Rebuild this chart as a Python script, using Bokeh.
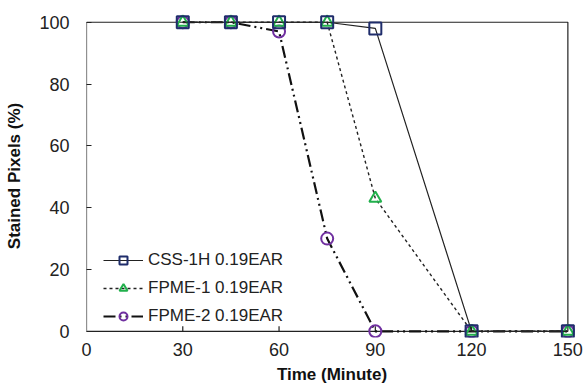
from bokeh.plotting import figure
from bokeh.models import Range1d, FixedTicker, Legend, LegendItem
from bokeh.embed import file_html
from bokeh.resources import INLINE

time = [30, 45, 60, 75, 90, 120, 150]
css_1h = [100, 100, 100, 100, 98, 0, 0]
fpme_1 = [100, 100, 100, 100, 43, 0, 0]
fpme_2 = [100, 100, 97, 30, 0, 0, 0]
x_ticks = [0, 30, 60, 90, 120, 150]
y_ticks = [0, 20, 40, 60, 80, 100]

FONT = "Liberation Sans"
INK = "#222222"

p = figure(width=586, height=389, output_backend="svg", toolbar_location=None,
           x_range=Range1d(0, 153), y_range=Range1d(-2.0, 102.5),
           min_border_left=86, min_border_right=9, min_border_top=14, min_border_bottom=52)
p.outline_line_color = None
p.xgrid.visible = False
p.ygrid.visible = False
p.background_fill_color = "white"

# plot box
p.quad(left=[x_ticks[0]], right=[x_ticks[-1]], bottom=[y_ticks[0]], top=[y_ticks[-1]],
       fill_alpha=0, line_color=INK, line_width=1.2)
# inward x ticks sitting on the y=0 line
p.segment(x0=x_ticks[1:-1], y0=[0] * 4, x1=x_ticks[1:-1], y1=[1.6] * 4,
          line_color=INK, line_width=1.2)

for ax, ticks in ((p.xaxis[0], x_ticks), (p.yaxis[0], y_ticks)):
    ax.ticker = FixedTicker(ticks=ticks)
    ax.axis_line_color = None
    ax.minor_tick_line_color = None
    ax.major_label_text_font = FONT
    ax.major_label_text_font_size = "18px"
    ax.major_label_text_color = INK
    ax.axis_label_text_font = FONT
    ax.axis_label_text_font_size = "17px"
    ax.axis_label_text_font_style = "bold"
    ax.axis_label_text_color = "#111111"

p.xaxis.major_tick_line_color = None
p.xaxis.major_tick_in = 0
p.xaxis.major_tick_out = 0
p.yaxis.major_tick_in = 5
p.yaxis.major_tick_out = 0
p.yaxis.major_tick_line_color = INK
p.yaxis.major_tick_line_width = 1.2
p.xaxis.axis_label = "Time (Minute)"
p.yaxis.axis_label = "Stained Pixels (%)"
p.xaxis.major_label_standoff = 5
p.yaxis.major_label_standoff = 17
p.xaxis.axis_label_standoff = 6
p.yaxis.axis_label_standoff = 12

l3 = p.line(time, fpme_2, line_color="#111111", line_width=2.2, line_dash="12 4 2 4 2 4")
s3 = p.scatter(time, fpme_2, marker="circle", size=12, fill_alpha=0,
               line_color="#7030a0", line_width=2)
l2 = p.line(time, fpme_1, line_color=INK, line_width=1.4, line_dash="3 3")
s2 = p.scatter(time, fpme_1, marker="triangle", size=12, fill_alpha=0,
               line_color="#22b04c", line_width=2)
l1 = p.line(time, css_1h, line_color=INK, line_width=1.2)
s1 = p.scatter(time, css_1h, marker="square", size=12, fill_alpha=0,
               line_color="#1f2d6b", line_width=2)

legend = Legend(items=[
    LegendItem(label="CSS-1H 0.19EAR", renderers=[l1, s1]),
    LegendItem(label="FPME-1 0.19EAR", renderers=[l2, s2]),
    LegendItem(label="FPME-2 0.19EAR", renderers=[l3, s3]),
], location=(17, 11))
legend.border_line_color = None
legend.background_fill_alpha = 0
legend.label_text_font = FONT
legend.label_text_font_size = "17px"
legend.label_text_color = INK
legend.glyph_width = 40
legend.spacing = 8
legend.label_standoff = 5
p.add_layout(legend)

open("out.html", "w").write(file_html(p, INLINE))
